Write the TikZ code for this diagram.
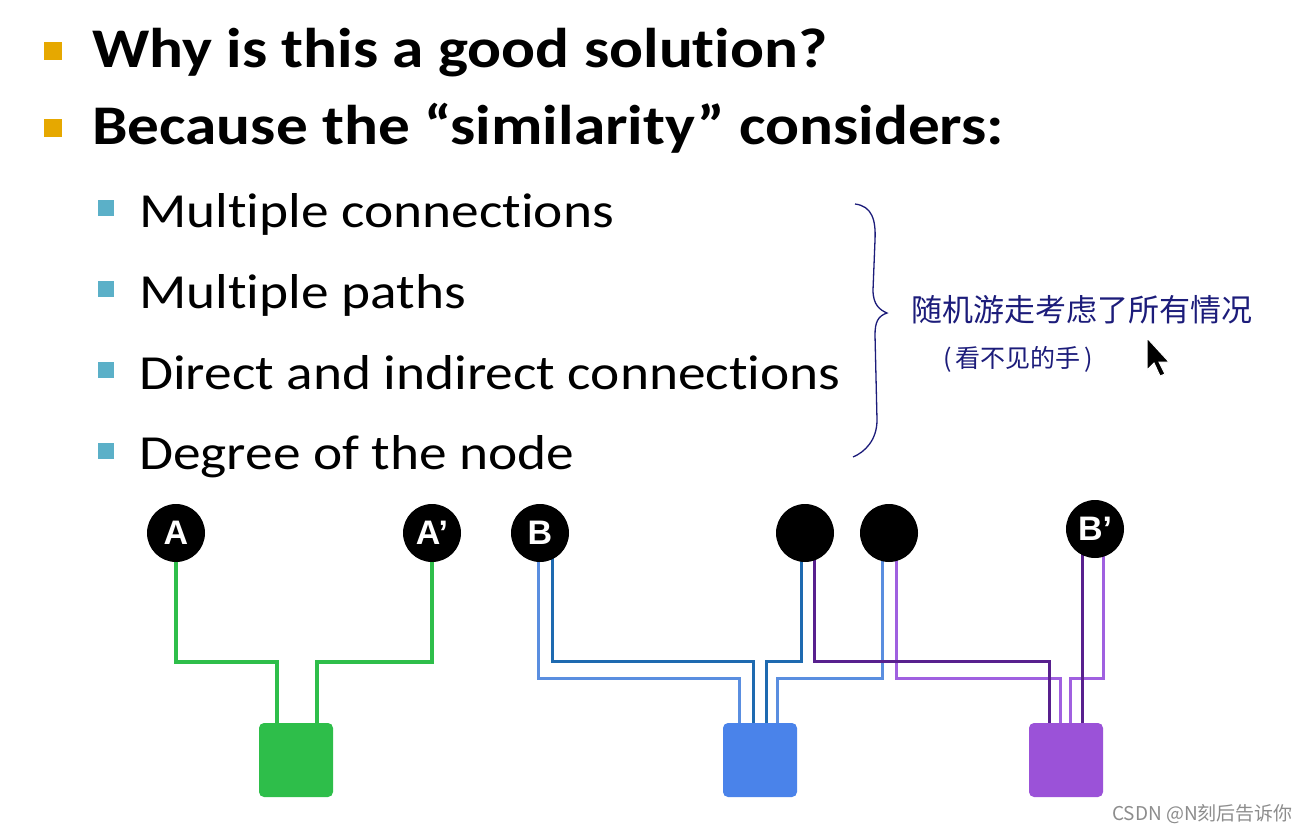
\documentclass[tikz,border=0pt]{standalone}
\usepackage{xcolor}
\usepackage{fontspec}
\setmainfont{Carlito}[FakeStretch=1.13, Ligatures={TeX,NoCommon}]
\newfontfamily\labelfont{Liberation Sans}
\newfontfamily\cjkfont{Noto Sans CJK SC}
\usetikzlibrary{positioning, backgrounds, calc}
\definecolor{titlecolor}{RGB}{230,168,0}
\definecolor{itemcolor}{RGB}{91,176,200}
\definecolor{greencolor}{RGB}{46,190,74}
\definecolor{bluecolor}{RGB}{74,131,234}
\definecolor{lightbluecolor}{RGB}{90,142,224}
\definecolor{darkbluecolor}{RGB}{30,106,176}
\definecolor{purplecolor}{RGB}{155,82,216}
\definecolor{lightpurplecolor}{RGB}{160,96,224}
\definecolor{darkpurplecolor}{RGB}{88,32,142}
\definecolor{inkcolor}{RGB}{28,28,122}

\begin{document}
\begin{tikzpicture}[
    x=1pt, y=-1pt,
    titlebullet/.style={fill=titlecolor, minimum size=18pt, inner sep=0pt},
    itembullet/.style={fill=itemcolor, minimum size=16pt, inner sep=0pt},
    titletext/.style={anchor=base west, inner sep=0pt, font=\bfseries\fontsize{56}{60}\selectfont},
    itemtext/.style={anchor=base west, inner sep=0pt, font=\fontsize{49}{54}\selectfont},
    graphnode/.style={circle, fill=black, minimum size=58pt, inner sep=0pt, text=white, font=\labelfont\bfseries\fontsize{34}{34}\selectfont},
    community/.style={rounded corners=5pt, minimum size=74pt, inner sep=0pt},
    greenline/.style={draw=greencolor, line width=4pt},
    lightblueline/.style={draw=lightbluecolor, line width=3pt},
    darkblueline/.style={draw=darkbluecolor, line width=3pt},
    lightpurpleline/.style={draw=lightpurplecolor, line width=3pt},
    darkpurpleline/.style={draw=darkpurplecolor, line width=3pt}
]
    \useasboundingbox (0,0) rectangle (1311,832);

    % Bullets
    \node[titlebullet] (tb1) at (53,51) {};
    \node[titletext] (why) at (92,68) {Why is this a good solution?};
    \node[titlebullet] (tb2) at (53,128) {};
    \node[titletext] (because) at (92,145) {Because the “similarity” considers:};

    \node[itembullet] (ib1) at (106,208) {};
    \node[itemtext] (item1) at (139,227) {Multiple connections};
    \node[itembullet] (ib2) at (106,289) {};
    \node[itemtext] (item2) at (139,308) {Multiple paths};
    \node[itembullet] (ib3) at (106,370) {};
    \node[itemtext] (item3) at (139,389) {Direct and indirect connections};
    \node[itembullet] (ib4) at (106,451) {};
    \node[itemtext] (item4) at (139,469) {Degree of the node};

    % Handwritten note
    \draw[inkcolor, line width=1.3pt] (855,204) .. controls (872,206) and (876,220) .. (875,240)
        -- (873,290) .. controls (873,305) and (880,310) .. (887,313)
        .. controls (878,316) and (875,322) .. (875,335)
        -- (877,420) .. controls (877,440) and (865,452) .. (853,457);
    \node[anchor=west, inner sep=0pt, text=inkcolor, font=\cjkfont\fontsize{31}{31}\selectfont] (note1) at (911,310) {随机游走考虑了所有情况};
    \node[anchor=west, inner sep=0pt, text=inkcolor, font=\cjkfont\fontsize{25}{25}\selectfont] (note2) at (943,359) {(\,看不见的手\,)};

    % Cursor
    \filldraw[fill=black, draw=white, line width=1pt] (1147,338) -- ++(0,32) -- ++(7,-7) -- ++(6,13)
        -- ++(5,-2) -- ++(-6,-12) -- ++(10,0) -- cycle;

    % Nodes
    \node[graphnode] (nA) at (176,533) {A};
    \node[graphnode] (nAp) at (432,533) {A’};
    \node[graphnode] (nB) at (540,533) {B};
    \node[graphnode] (nU) at (805,533) {};
    \node[graphnode] (nV) at (889,533) {};
    \node[graphnode] (nBp) at (1095,529) {B’};

    % Communities
    \node[community, fill=greencolor] (greenbox) at (296,760) {};
    \node[community, fill=bluecolor] (bluebox) at (760,760) {};
    \node[community, fill=purplecolor] (purplebox) at (1066,760) {};

    % Paths
    \begin{scope}[on background layer]
        \draw[greenline] (nA.center) |- ($(greenbox.north)+(-19,-61)$) -- ([xshift=-19pt]greenbox.north);
        \draw[greenline] (nAp.center) |- ($(greenbox.north)+(21,-61)$) -- ([xshift=21pt]greenbox.north);

        \draw[lightblueline] ([xshift=-2pt]nB.center) |- ($(bluebox.north)+(-21,-44)$) -- ([xshift=-21pt]bluebox.north);
        \draw[darkblueline] ([xshift=12pt]nB.center) |- ($(bluebox.north)+(-7,-61)$) -- ([xshift=-7pt]bluebox.north);
        \draw[darkblueline] ([xshift=-4pt]nU.center) |- ($(bluebox.north)+(6,-61)$) -- ([xshift=6pt]bluebox.north);
        \draw[lightblueline] ([xshift=-7pt]nV.center) |- ($(bluebox.north)+(17,-44)$) -- ([xshift=17pt]bluebox.north);

        \draw[lightpurpleline] ([xshift=7pt]nV.center) |- ($(purplebox.north)+(-6,-44)$) -- ([xshift=-6pt]purplebox.north);
        \draw[lightpurpleline] ([xshift=8pt]nBp.center) |- ($(purplebox.north)+(4,-44)$) -- ([xshift=4pt]purplebox.north);
        \draw[darkpurpleline] ([xshift=9pt]nU.center) |- ($(purplebox.north)+(-17,-61)$) -- ([xshift=-17pt]purplebox.north);
        \draw[darkpurpleline] ([xshift=-13pt]nBp.center) -- ([xshift=16pt]purplebox.north);
    \end{scope}

    % Watermark
    \node[anchor=base west, inner sep=0pt, text=black!45, font=\cjkfont\fontsize{19}{19}\selectfont] (mark) at (1112,820) {CSDN @N刻后告诉你};
\end{tikzpicture}
\end{document}
